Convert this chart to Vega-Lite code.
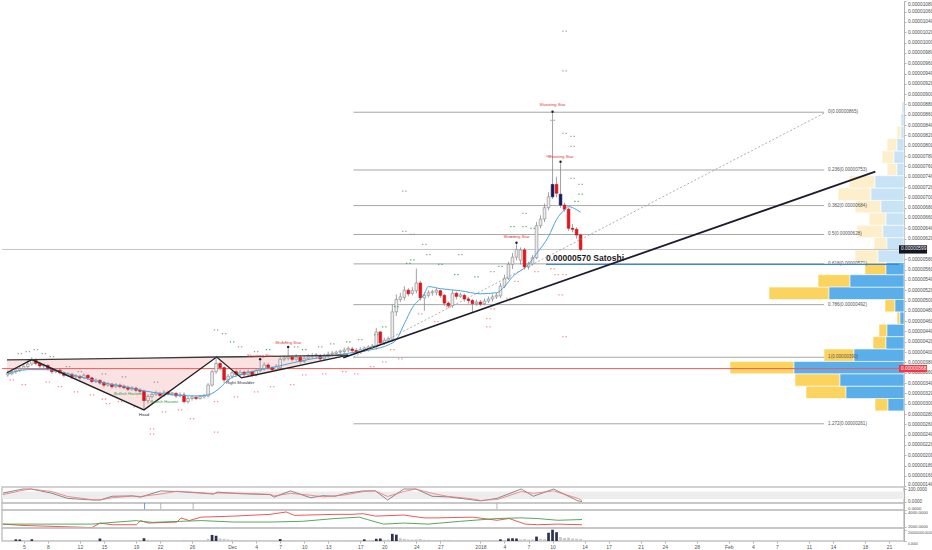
{
"$schema":"https://vega.github.io/schema/vega-lite/v6.json",
"padding":0,
"background":"#ffffff",
"bounds":"flush",
"spacing":0,
"config":{"view":{"stroke":null},"font":"Liberation Sans","axis":{"labelFontSize":5,"labelColor":"#4d4d4d","tickSize":2,"tickColor":"#b0b0b0","domainColor":"#b0b0b0","grid":false,"labelPadding":1.5,"labelOverlap":false},"text":{"font":"Liberation Sans"}},
"datasets":{
"candles":[
{"t":"2017-11-03T00:00","o":356,"h":364,"l":352,"c":360,"v":10},
{"t":"2017-11-03T12:00","o":358,"h":367,"l":355,"c":362,"v":12},
{"t":"2017-11-04T00:00","o":362,"h":370,"l":358,"c":365,"v":30,"hl":1},
{"t":"2017-11-04T12:00","o":365,"h":374,"l":361,"c":368,"v":28,"hl":1},
{"t":"2017-11-05T00:00","o":368,"h":378,"l":364,"c":372,"v":12},
{"t":"2017-11-05T12:00","o":372,"h":384,"l":368,"c":377,"v":10},
{"t":"2017-11-06T00:00","o":377,"h":390,"l":373,"c":384,"v":32,"hl":1},
{"t":"2017-11-06T12:00","o":384,"h":388,"l":374,"c":378,"v":15},
{"t":"2017-11-07T00:00","o":378,"h":382,"l":369,"c":373,"v":10},
{"t":"2017-11-07T12:00","o":373,"h":378,"l":368,"c":375,"v":8},
{"t":"2017-11-08T00:00","o":374,"h":377,"l":364,"c":368,"v":10},
{"t":"2017-11-08T12:00","o":368,"h":371,"l":358,"c":362,"v":12},
{"t":"2017-11-09T00:00","o":362,"h":369,"l":359,"c":365,"v":9},
{"t":"2017-11-09T12:00","o":365,"h":368,"l":356,"c":360,"v":10},
{"t":"2017-11-10T00:00","o":360,"h":363,"l":351,"c":355,"v":11},
{"t":"2017-11-10T12:00","o":355,"h":361,"l":352,"c":358,"v":8},
{"t":"2017-11-11T00:00","o":357,"h":360,"l":348,"c":352,"v":9},
{"t":"2017-11-11T12:00","o":352,"h":357,"l":349,"c":354,"v":8},
{"t":"2017-11-12T00:00","o":353,"h":356,"l":347,"c":350,"v":10},
{"t":"2017-11-12T12:00","o":351,"h":359,"l":348,"c":355,"v":9},
{"t":"2017-11-13T00:00","o":355,"h":357,"l":346,"c":350,"v":11},
{"t":"2017-11-13T12:00","o":350,"h":352,"l":340,"c":343,"v":14},
{"t":"2017-11-14T00:00","o":343,"h":349,"l":340,"c":346,"v":12},
{"t":"2017-11-14T12:00","o":345,"h":348,"l":337,"c":340,"v":45,"hl":1},
{"t":"2017-11-15T00:00","o":341,"h":344,"l":332,"c":336,"v":18},
{"t":"2017-11-15T12:00","o":336,"h":342,"l":333,"c":339,"v":12},
{"t":"2017-11-16T00:00","o":338,"h":340,"l":329,"c":333,"v":10},
{"t":"2017-11-16T12:00","o":333,"h":340,"l":330,"c":337,"v":9},
{"t":"2017-11-17T00:00","o":336,"h":339,"l":330,"c":333,"v":10},
{"t":"2017-11-17T12:00","o":334,"h":337,"l":328,"c":331,"v":11},
{"t":"2017-11-18T00:00","o":332,"h":335,"l":324,"c":328,"v":12},
{"t":"2017-11-18T12:00","o":328,"h":334,"l":325,"c":331,"v":10},
{"t":"2017-11-19T00:00","o":330,"h":333,"l":322,"c":326,"v":14},
{"t":"2017-11-19T12:00","o":326,"h":330,"l":320,"c":324,"v":18},
{"t":"2017-11-20T00:00","o":324,"h":327,"l":288,"c":306,"v":50,"hl":1},
{"t":"2017-11-20T12:00","o":306,"h":318,"l":300,"c":314,"v":22},
{"t":"2017-11-21T00:00","o":314,"h":322,"l":310,"c":318,"v":15},
{"t":"2017-11-21T12:00","o":318,"h":325,"l":315,"c":321,"v":12},
{"t":"2017-11-22T00:00","o":320,"h":323,"l":312,"c":316,"v":10},
{"t":"2017-11-22T12:00","o":316,"h":326,"l":313,"c":322,"v":9},
{"t":"2017-11-23T00:00","o":322,"h":325,"l":316,"c":319,"v":10},
{"t":"2017-11-23T12:00","o":319,"h":323,"l":315,"c":321,"v":11},
{"t":"2017-11-24T00:00","o":320,"h":322,"l":311,"c":315,"v":12},
{"t":"2017-11-24T12:00","o":315,"h":322,"l":312,"c":318,"v":10},
{"t":"2017-11-25T00:00","o":317,"h":322,"l":300,"c":304,"v":20},
{"t":"2017-11-25T12:00","o":304,"h":314,"l":300,"c":310,"v":15},
{"t":"2017-11-26T00:00","o":310,"h":316,"l":306,"c":313,"v":12},
{"t":"2017-11-26T12:00","o":312,"h":316,"l":307,"c":310,"v":10},
{"t":"2017-11-27T00:00","o":310,"h":317,"l":308,"c":314,"v":11},
{"t":"2017-11-27T12:00","o":313,"h":319,"l":310,"c":316,"v":14},
{"t":"2017-11-28T00:00","o":315,"h":340,"l":312,"c":336,"v":40},
{"t":"2017-11-28T12:00","o":336,"h":366,"l":333,"c":362,"v":110,"hl":1},
{"t":"2017-11-29T00:00","o":362,"h":391,"l":358,"c":378,"v":95,"hl":1},
{"t":"2017-11-29T12:00","o":378,"h":382,"l":365,"c":370,"v":45},
{"t":"2017-11-30T00:00","o":370,"h":372,"l":340,"c":346,"v":40},
{"t":"2017-11-30T12:00","o":346,"h":358,"l":342,"c":353,"v":30},
{"t":"2017-12-01T00:00","o":353,"h":364,"l":349,"c":360,"v":22},
{"t":"2017-12-01T12:00","o":362,"h":366,"l":352,"c":357,"v":18},
{"t":"2017-12-02T00:00","o":357,"h":366,"l":353,"c":361,"v":15},
{"t":"2017-12-02T12:00","o":361,"h":364,"l":353,"c":357,"v":14},
{"t":"2017-12-03T00:00","o":357,"h":366,"l":353,"c":362,"v":12},
{"t":"2017-12-03T12:00","o":362,"h":364,"l":352,"c":356,"v":13},
{"t":"2017-12-04T00:00","o":356,"h":368,"l":353,"c":364,"v":12},
{"t":"2017-12-04T12:00","o":364,"h":383,"l":361,"c":368,"v":14},
{"t":"2017-12-05T00:00","o":368,"h":380,"l":364,"c":375,"v":12},
{"t":"2017-12-05T12:00","o":375,"h":378,"l":366,"c":370,"v":11},
{"t":"2017-12-06T00:00","o":370,"h":373,"l":362,"c":366,"v":12},
{"t":"2017-12-06T12:00","o":366,"h":377,"l":363,"c":372,"v":15},
{"t":"2017-12-07T00:00","o":370,"h":392,"l":366,"c":386,"v":35,"hl":1},
{"t":"2017-12-07T12:00","o":386,"h":393,"l":382,"c":389,"v":18},
{"t":"2017-12-08T00:00","o":388,"h":407,"l":384,"c":391,"v":15},
{"t":"2017-12-08T12:00","o":390,"h":393,"l":382,"c":386,"v":14},
{"t":"2017-12-09T00:00","o":386,"h":396,"l":383,"c":390,"v":12},
{"t":"2017-12-09T12:00","o":390,"h":393,"l":378,"c":382,"v":13},
{"t":"2017-12-10T00:00","o":382,"h":392,"l":379,"c":388,"v":11},
{"t":"2017-12-10T12:00","o":388,"h":396,"l":385,"c":391,"v":12},
{"t":"2017-12-11T00:00","o":391,"h":398,"l":387,"c":393,"v":10},
{"t":"2017-12-11T12:00","o":392,"h":398,"l":388,"c":395,"v":11},
{"t":"2017-12-12T00:00","o":393,"h":396,"l":383,"c":387,"v":12},
{"t":"2017-12-12T12:00","o":387,"h":397,"l":384,"c":392,"v":10},
{"t":"2017-12-13T00:00","o":392,"h":401,"l":389,"c":396,"v":11},
{"t":"2017-12-13T12:00","o":396,"h":402,"l":392,"c":398,"v":10},
{"t":"2017-12-14T00:00","o":397,"h":403,"l":392,"c":400,"v":12},
{"t":"2017-12-14T12:00","o":400,"h":405,"l":394,"c":402,"v":11},
{"t":"2017-12-15T00:00","o":401,"h":409,"l":397,"c":404,"v":12},
{"t":"2017-12-15T12:00","o":404,"h":411,"l":400,"c":407,"v":14},
{"t":"2017-12-16T00:00","o":406,"h":410,"l":398,"c":403,"v":13},
{"t":"2017-12-16T12:00","o":403,"h":408,"l":396,"c":400,"v":15},
{"t":"2017-12-17T00:00","o":401,"h":410,"l":398,"c":405,"v":18},
{"t":"2017-12-17T12:00","o":405,"h":411,"l":400,"c":408,"v":30,"hl":1},
{"t":"2017-12-18T00:00","o":407,"h":413,"l":401,"c":410,"v":14},
{"t":"2017-12-18T12:00","o":409,"h":416,"l":404,"c":412,"v":20},
{"t":"2017-12-19T00:00","o":411,"h":447,"l":405,"c":439,"v":40,"hl":1},
{"t":"2017-12-19T12:00","o":439,"h":441,"l":414,"c":418,"v":45,"hl":1},
{"t":"2017-12-20T00:00","o":418,"h":428,"l":414,"c":423,"v":22},
{"t":"2017-12-20T12:00","o":423,"h":430,"l":419,"c":426,"v":25},
{"t":"2017-12-21T00:00","o":425,"h":492,"l":420,"c":478,"v":130,"hl":1},
{"t":"2017-12-21T12:00","o":478,"h":512,"l":470,"c":502,"v":115,"hl":1},
{"t":"2017-12-22T00:00","o":502,"h":515,"l":497,"c":507,"v":50},
{"t":"2017-12-22T12:00","o":506,"h":528,"l":500,"c":520,"v":38},
{"t":"2017-12-23T00:00","o":520,"h":524,"l":508,"c":513,"v":28},
{"t":"2017-12-23T12:00","o":514,"h":526,"l":510,"c":519,"v":25},
{"t":"2017-12-24T00:00","o":519,"h":562,"l":514,"c":534,"v":30},
{"t":"2017-12-24T12:00","o":534,"h":538,"l":500,"c":505,"v":35},
{"t":"2017-12-25T00:00","o":505,"h":516,"l":480,"c":510,"v":22},
{"t":"2017-12-25T12:00","o":510,"h":520,"l":506,"c":515,"v":20},
{"t":"2017-12-26T00:00","o":515,"h":521,"l":509,"c":517,"v":18},
{"t":"2017-12-26T12:00","o":516,"h":524,"l":510,"c":520,"v":16},
{"t":"2017-12-27T00:00","o":519,"h":521,"l":505,"c":510,"v":18},
{"t":"2017-12-27T12:00","o":510,"h":513,"l":490,"c":495,"v":22},
{"t":"2017-12-28T00:00","o":495,"h":498,"l":485,"c":490,"v":20},
{"t":"2017-12-28T12:00","o":490,"h":520,"l":486,"c":514,"v":18},
{"t":"2017-12-29T00:00","o":514,"h":517,"l":502,"c":508,"v":16},
{"t":"2017-12-29T12:00","o":508,"h":515,"l":505,"c":511,"v":14},
{"t":"2017-12-30T00:00","o":510,"h":513,"l":498,"c":503,"v":15},
{"t":"2017-12-30T12:00","o":503,"h":506,"l":494,"c":500,"v":14},
{"t":"2017-12-31T00:00","o":500,"h":503,"l":478,"c":494,"v":18},
{"t":"2017-12-31T12:00","o":494,"h":502,"l":490,"c":497,"v":14},
{"t":"2018-01-01T00:00","o":497,"h":501,"l":489,"c":493,"v":12},
{"t":"2018-01-01T12:00","o":494,"h":504,"l":491,"c":499,"v":13},
{"t":"2018-01-02T00:00","o":499,"h":508,"l":495,"c":503,"v":14},
{"t":"2018-01-02T12:00","o":503,"h":512,"l":498,"c":507,"v":16},
{"t":"2018-01-03T00:00","o":507,"h":515,"l":503,"c":510,"v":18},
{"t":"2018-01-03T12:00","o":509,"h":534,"l":505,"c":528,"v":30,"hl":1},
{"t":"2018-01-04T00:00","o":528,"h":550,"l":524,"c":543,"v":20},
{"t":"2018-01-04T12:00","o":543,"h":575,"l":540,"c":570,"v":45,"hl":1},
{"t":"2018-01-05T00:00","o":570,"h":592,"l":561,"c":584,"v":50,"hl":1},
{"t":"2018-01-05T12:00","o":584,"h":609,"l":578,"c":599,"v":45,"hl":1},
{"t":"2018-01-06T00:00","o":578,"h":603,"l":570,"c":598,"v":28},
{"t":"2018-01-06T12:00","o":598,"h":602,"l":560,"c":565,"v":35},
{"t":"2018-01-07T00:00","o":565,"h":575,"l":560,"c":571,"v":25},
{"t":"2018-01-07T12:00","o":571,"h":588,"l":568,"c":583,"v":28},
{"t":"2018-01-08T00:00","o":583,"h":652,"l":580,"c":645,"v":80,"hl":1},
{"t":"2018-01-08T12:00","o":645,"h":665,"l":640,"c":658,"v":40},
{"t":"2018-01-09T00:00","o":658,"h":688,"l":652,"c":680,"v":35},
{"t":"2018-01-09T12:00","o":680,"h":710,"l":675,"c":701,"v":150,"hl":1},
{"t":"2018-01-10T00:00","o":701,"h":863,"l":697,"c":725,"v":205,"hl":1,"p":1},
{"t":"2018-01-10T12:00","o":725,"h":740,"l":700,"c":708,"v":160,"hl":1},
{"t":"2018-01-11T00:00","o":706,"h":766,"l":680,"c":685,"v":70,"p":1},
{"t":"2018-01-11T12:00","o":685,"h":690,"l":672,"c":677,"v":55},
{"t":"2018-01-12T00:00","o":677,"h":680,"l":635,"c":640,"v":60},
{"t":"2018-01-12T12:00","o":640,"h":648,"l":632,"c":638,"v":45},
{"t":"2018-01-13T00:00","o":638,"h":642,"l":620,"c":627,"v":40},
{"t":"2018-01-13T12:00","o":627,"h":630,"l":596,"c":599,"v":35}
],
"ma":[
{"t":"2017-11-03T00:00","m":358},{"t":"2017-11-05T12:00","m":366},{"t":"2017-11-08T00:00","m":366},{"t":"2017-11-10T12:00","m":358},
{"t":"2017-11-13T00:00","m":348},{"t":"2017-11-15T00:00","m":340},{"t":"2017-11-17T12:00","m":333},{"t":"2017-11-20T00:00","m":325},
{"t":"2017-11-22T12:00","m":319},{"t":"2017-11-26T12:00","m":315},{"t":"2017-11-28T00:00","m":317},{"t":"2017-11-29T12:00","m":331},
{"t":"2017-11-30T12:00","m":346},{"t":"2017-12-02T12:00","m":358},{"t":"2017-12-04T12:00","m":366},{"t":"2017-12-06T00:00","m":370},
{"t":"2017-12-08T12:00","m":379},{"t":"2017-12-11T00:00","m":387},{"t":"2017-12-13T12:00","m":393},{"t":"2017-12-16T00:00","m":399},
{"t":"2017-12-18T12:00","m":405},{"t":"2017-12-20T12:00","m":414},{"t":"2017-12-21T12:00","m":424},{"t":"2017-12-22T12:00","m":455},
{"t":"2017-12-23T12:00","m":486},{"t":"2017-12-25T00:00","m":513},{"t":"2017-12-25T12:00","m":527},{"t":"2017-12-27T00:00","m":523},
{"t":"2017-12-29T12:00","m":519},{"t":"2018-01-01T00:00","m":513},{"t":"2018-01-03T00:00","m":515},{"t":"2018-01-04T00:00","m":527},
{"t":"2018-01-05T00:00","m":546},{"t":"2018-01-07T00:00","m":570},{"t":"2018-01-08T00:00","m":591},{"t":"2018-01-09T12:00","m":624},
{"t":"2018-01-10T12:00","m":657},{"t":"2018-01-11T12:00","m":676},{"t":"2018-01-12T00:00","m":682},{"t":"2018-01-13T00:00","m":676},
{"t":"2018-01-13T12:00","m":671}
],
"profile":[
{"lo":286,"hi":310,"up":16,"tot":29,"z":"lo"},{"lo":310,"hi":334,"up":58,"tot":98,"z":"lo"},{"lo":334,"hi":358,"up":64,"tot":109,"z":"lo"},
{"lo":358,"hi":382,"up":110,"tot":174,"z":"lo"},{"lo":382,"hi":406,"up":50,"tot":80,"z":"lo"},{"lo":406,"hi":430,"up":18,"tot":31,"z":"lo"},
{"lo":430,"hi":454,"up":17,"tot":25,"z":"lo"},{"lo":454,"hi":478,"up":4,"tot":7,"z":"lo"},{"lo":478,"hi":502,"up":9,"tot":19,"z":"lo"},
{"lo":502,"hi":526,"up":75,"tot":135,"z":"lo"},{"lo":526,"hi":550,"up":54,"tot":86,"z":"lo"},{"lo":550,"hi":574,"up":18,"tot":39,"z":"lo"},
{"lo":574,"hi":598,"up":26,"tot":49,"z":"hi"},{"lo":598,"hi":622,"up":17,"tot":30,"z":"hi"},{"lo":622,"hi":646,"up":21,"tot":47,"z":"hi"},
{"lo":646,"hi":670,"up":18,"tot":35,"z":"hi"},{"lo":670,"hi":694,"up":23,"tot":49,"z":"hi"},{"lo":694,"hi":718,"up":33,"tot":66,"z":"hi"},
{"lo":718,"hi":742,"up":29,"tot":55,"z":"hi"},{"lo":742,"hi":766,"up":7,"tot":17,"z":"hi"},{"lo":766,"hi":790,"up":10,"tot":22,"z":"hi"},
{"lo":790,"hi":814,"up":7,"tot":17,"z":"hi"},{"lo":814,"hi":838,"up":3,"tot":7,"z":"hi"},{"lo":838,"hi":862,"up":3,"tot":3,"z":"hi"},
{"lo":862,"hi":886,"up":2,"tot":2,"z":"hi"}
],
"fib":[
{"p":865,"s":"0(0.00000865)"},{"p":753,"s":"0.236(0.00000753)"},{"p":684,"s":"0.382(0.00000684)"},{"p":628,"s":"0.5(0.00000628)"},
{"p":571,"s":"0.618(0.00000571)"},{"p":492,"s":"0.786(0.00000492)"},{"p":390,"s":"1(0.00000390)"},{"p":261,"s":"1.272(0.00000261)"}
],
"hs":[
{"t":"2017-11-02T21:36","p":360,"n":385},
{"t":"2017-11-06T00:00","p":385.5,"n":385.5},
{"t":"2017-11-20T00:00","p":288,"n":388.5},
{"t":"2017-11-29T01:40","p":390.5,"n":390.5},
{"t":"2017-12-02T03:50","p":350,"n":391},
{"t":"2017-12-15T11:45","p":394,"n":394}
],
"lines":[
{"id":"trend","t":"2017-12-14T21:00","p":389},{"id":"trend","t":"2018-02-19T07:00","p":750},
{"id":"fibline","t":"2017-12-16T03:36","p":390},{"id":"fibline","t":"2018-02-13T03:00","p":865}
],
"dots":[
{"t":"2017-11-04T12:00","p":397,"k":"n"},{"t":"2017-11-05T12:00","p":401,"k":"n"},{"t":"2017-11-06T12:00","p":405,"k":"n"},
{"t":"2017-11-07T12:00","p":397,"k":"n"},{"t":"2017-11-08T12:00","p":391,"k":"n"},{"t":"2017-11-10T12:00","p":372,"k":"n"},
{"t":"2017-11-12T00:00","p":362,"k":"n"},{"t":"2017-11-15T00:00","p":358,"k":"n"},{"t":"2017-11-17T12:00","p":352,"k":"n"},
{"t":"2017-11-21T12:00","p":342,"k":"n"},{"t":"2017-11-29T00:00","p":443,"k":"n"},{"t":"2017-11-30T00:00","p":436,"k":"n"},
{"t":"2017-12-02T00:00","p":410,"k":"n"},{"t":"2017-12-04T00:00","p":401,"k":"n"},{"t":"2017-12-07T12:00","p":420,"k":"n"},
{"t":"2017-12-09T00:00","p":410,"k":"n"},{"t":"2017-12-12T00:00","p":410,"k":"n"},{"t":"2017-12-13T12:00","p":416,"k":"n"},
{"t":"2017-12-17T00:00","p":424,"k":"n"},{"t":"2017-12-22T12:00","p":712,"k":"n"},{"t":"2017-12-22T12:00","p":634,"k":"n"},
{"t":"2017-12-23T12:00","p":628,"k":"n"},{"t":"2017-12-25T00:00","p":609,"k":"n"},{"t":"2017-12-25T12:00","p":589,"k":"n"},
{"t":"2017-12-29T12:00","p":589,"k":"n"},{"t":"2018-01-02T12:00","p":556,"k":"n"},{"t":"2018-01-05T00:00","p":624,"k":"n"},
{"t":"2018-01-06T12:00","p":669,"k":"n"},{"t":"2018-01-09T12:00","p":780,"k":"n"},{"t":"2018-01-10T00:00","p":849,"k":"n"},
{"t":"2018-01-11T12:00","p":1022,"k":"n"},{"t":"2018-01-11T12:00","p":945,"k":"n"},{"t":"2018-01-11T12:00","p":824,"k":"n"},
{"t":"2018-01-12T12:00","p":818,"k":"n"},{"t":"2018-01-12T12:00","p":799,"k":"n"},{"t":"2018-01-12T12:00","p":737,"k":"n"},
{"t":"2018-01-13T12:00","p":725,"k":"n"},
{"t":"2017-12-01T00:00","p":420,"k":"g"},{"t":"2017-12-05T12:00","p":405,"k":"g"},{"t":"2017-12-10T00:00","p":405,"k":"g"},
{"t":"2017-12-15T12:00","p":420,"k":"g"},{"t":"2017-12-19T00:00","p":434,"k":"g"},{"t":"2017-12-20T00:00","p":449,"k":"g"},
{"t":"2017-12-21T12:00","p":488,"k":"g"},{"t":"2017-12-23T12:00","p":579,"k":"g"},{"t":"2017-12-23T00:00","p":572,"k":"g"},
{"t":"2017-12-27T00:00","p":570,"k":"g"},{"t":"2017-12-29T00:00","p":550,"k":"g"},{"t":"2017-12-31T12:00","p":546,"k":"g"},
{"t":"2018-01-03T12:00","p":566,"k":"g"},{"t":"2018-01-05T00:00","p":643,"k":"g"},{"t":"2018-01-06T12:00","p":643,"k":"g"},
{"t":"2018-01-07T12:00","p":640,"k":"g"},{"t":"2018-01-13T12:00","p":706,"k":"g"},{"t":"2018-01-13T00:00","p":692,"k":"g"},
{"t":"2017-11-03T12:00","p":346,"k":"r"},{"t":"2017-11-05T00:00","p":337,"k":"r"},{"t":"2017-11-08T00:00","p":342,"k":"r"},
{"t":"2017-11-09T12:00","p":333,"k":"r"},{"t":"2017-11-11T12:00","p":323,"k":"r"},{"t":"2017-11-13T12:00","p":317,"k":"r"},
{"t":"2017-11-15T00:00","p":309,"k":"r"},{"t":"2017-11-15T12:00","p":300,"k":"r"},{"t":"2017-11-17T00:00","p":304,"k":"r"},
{"t":"2017-11-19T00:00","p":294,"k":"r"},{"t":"2017-11-21T00:00","p":251,"k":"r"},{"t":"2017-11-21T00:00","p":241,"k":"r"},
{"t":"2017-11-22T12:00","p":284,"k":"r"},{"t":"2017-11-24T12:00","p":288,"k":"r"},{"t":"2017-11-26T00:00","p":271,"k":"r"},
{"t":"2017-11-29T00:00","p":304,"k":"r"},{"t":"2017-11-29T00:00","p":245,"k":"r"},{"t":"2017-12-01T12:00","p":313,"k":"r"},
{"t":"2017-12-04T00:00","p":323,"k":"r"},{"t":"2017-12-06T00:00","p":333,"k":"r"},{"t":"2017-12-08T12:00","p":337,"k":"r"},
{"t":"2017-12-10T00:00","p":356,"k":"r"},{"t":"2017-12-12T12:00","p":358,"k":"r"},{"t":"2017-12-15T00:00","p":362,"k":"r"},
{"t":"2017-12-16T12:00","p":358,"k":"r"},{"t":"2017-12-18T12:00","p":372,"k":"r"},{"t":"2017-12-20T00:00","p":381,"k":"r"},
{"t":"2017-12-21T00:00","p":405,"k":"r"},{"t":"2017-12-22T00:00","p":387,"k":"r"},{"t":"2017-12-24T12:00","p":474,"k":"r"},
{"t":"2017-12-26T12:00","p":459,"k":"r"},{"t":"2017-12-28T00:00","p":488,"k":"r"},{"t":"2018-01-02T00:00","p":465,"k":"r"},
{"t":"2018-01-02T00:00","p":449,"k":"r"},{"t":"2018-01-02T12:00","p":484,"k":"r"},{"t":"2018-01-04T12:00","p":504,"k":"r"},
{"t":"2018-01-05T12:00","p":537,"k":"r"},{"t":"2018-01-08T00:00","p":556,"k":"r"},{"t":"2018-01-10T00:00","p":562,"k":"r"},
{"t":"2018-01-10T12:00","p":550,"k":"r"},{"t":"2018-01-11T12:00","p":550,"k":"r"},{"t":"2018-01-11T00:00","p":511,"k":"r"},
{"t":"2018-01-11T12:00","p":430,"k":"r"}
],
"markers":[
{"t":"2018-01-10T00:00","p":866},{"t":"2018-01-11T00:00","p":769},{"t":"2018-01-05T12:00","p":612},
{"t":"2017-12-08T00:00","p":410},{"t":"2017-12-04T12:00","p":386}
],
"labels":[
{"t":"2018-01-10T00:00","p":879,"s":"Shooting Star","k":"r"},
{"t":"2018-01-11T00:00","p":779,"s":"Shooting Star","k":"r"},
{"t":"2018-01-05T12:00","p":624,"s":"Shooting Star","k":"r"},
{"t":"2017-12-08T00:00","p":418,"s":"Shooting Star","k":"r"},
{"t":"2017-12-04T12:00","p":393,"s":"Shooting Star","k":"r"},
{"t":"2017-11-18T00:00","p":319,"s":"Bullish Harami","k":"g"},
{"t":"2017-11-22T12:00","p":304,"s":"Bullish Harami","k":"g"},
{"t":"2017-11-20T00:00","p":278,"s":"Head","k":"b"},
{"t":"2017-12-02T00:00","p":340,"s":"Right Shoulder","k":"b"}
],
"pricebox":[
{"lo":591,"hi":607,"p":599,"s":"0.00000599","k":"d"},
{"lo":361,"hi":375,"p":368,"s":"0.00000368","k":"r"}
],
"stoch":[
{"t":"2017-11-03T00:00","s":"k","v":67},{"t":"2017-11-05T12:00","s":"k","v":100},{"t":"2017-11-06T12:00","s":"k","v":100},
{"t":"2017-11-09T00:00","s":"k","v":67},{"t":"2017-11-11T00:00","s":"k","v":25},{"t":"2017-11-14T00:00","s":"k","v":12},
{"t":"2017-11-15T00:00","s":"k","v":12},{"t":"2017-11-16T12:00","s":"k","v":42},{"t":"2017-11-19T00:00","s":"k","v":45},
{"t":"2017-11-20T00:00","s":"k","v":35},{"t":"2017-11-22T12:00","s":"k","v":85},{"t":"2017-11-24T12:00","s":"k","v":80},
{"t":"2017-11-27T12:00","s":"k","v":67},{"t":"2017-11-29T00:00","s":"k","v":60},{"t":"2017-11-29T12:00","s":"k","v":75},
{"t":"2017-12-02T12:00","s":"k","v":62},{"t":"2017-12-06T00:00","s":"k","v":55},{"t":"2017-12-06T12:00","s":"k","v":35},
{"t":"2017-12-08T12:00","s":"k","v":85},{"t":"2017-12-11T00:00","s":"k","v":30},{"t":"2017-12-12T12:00","s":"k","v":47},
{"t":"2017-12-14T00:00","s":"k","v":42},{"t":"2017-12-15T12:00","s":"k","v":67},{"t":"2017-12-17T12:00","s":"k","v":85},
{"t":"2017-12-19T00:00","s":"k","v":85},{"t":"2017-12-20T12:00","s":"k","v":12},{"t":"2017-12-22T12:00","s":"k","v":100},
{"t":"2017-12-24T00:00","s":"k","v":100},{"t":"2017-12-26T00:00","s":"k","v":42},{"t":"2017-12-28T00:00","s":"k","v":37},
{"t":"2017-12-30T12:00","s":"k","v":17},{"t":"2018-01-01T00:00","s":"k","v":5},{"t":"2018-01-03T00:00","s":"k","v":25},
{"t":"2018-01-06T00:00","s":"k","v":100},{"t":"2018-01-07T12:00","s":"k","v":42},{"t":"2018-01-10T00:00","s":"k","v":100},
{"t":"2018-01-13T00:00","s":"k","v":5},{"t":"2018-01-13T12:00","s":"k","v":0},
{"t":"2017-11-03T00:00","s":"d","v":55},{"t":"2017-11-05T12:00","s":"d","v":90},{"t":"2017-11-06T12:00","s":"d","v":100},
{"t":"2017-11-09T00:00","s":"d","v":80},{"t":"2017-11-11T00:00","s":"d","v":40},{"t":"2017-11-14T00:00","s":"d","v":15},
{"t":"2017-11-15T00:00","s":"d","v":12},{"t":"2017-11-16T12:00","s":"d","v":30},{"t":"2017-11-19T00:00","s":"d","v":44},
{"t":"2017-11-20T00:00","s":"d","v":40},{"t":"2017-11-22T12:00","s":"d","v":60},{"t":"2017-11-24T12:00","s":"d","v":82},
{"t":"2017-11-27T12:00","s":"d","v":70},{"t":"2017-11-29T00:00","s":"d","v":62},{"t":"2017-11-29T12:00","s":"d","v":68},
{"t":"2017-12-02T12:00","s":"d","v":66},{"t":"2017-12-06T00:00","s":"d","v":57},{"t":"2017-12-06T12:00","s":"d","v":45},
{"t":"2017-12-08T12:00","s":"d","v":65},{"t":"2017-12-11T00:00","s":"d","v":50},{"t":"2017-12-12T12:00","s":"d","v":38},
{"t":"2017-12-14T00:00","s":"d","v":45},{"t":"2017-12-15T12:00","s":"d","v":55},{"t":"2017-12-17T12:00","s":"d","v":80},
{"t":"2017-12-19T00:00","s":"d","v":85},{"t":"2017-12-20T12:00","s":"d","v":40},{"t":"2017-12-22T12:00","s":"d","v":80},
{"t":"2017-12-24T00:00","s":"d","v":100},{"t":"2017-12-26T00:00","s":"d","v":65},{"t":"2017-12-28T00:00","s":"d","v":40},
{"t":"2017-12-30T12:00","s":"d","v":25},{"t":"2018-01-01T00:00","s":"d","v":10},{"t":"2018-01-03T00:00","s":"d","v":15},
{"t":"2018-01-06T00:00","s":"d","v":80},{"t":"2018-01-07T12:00","s":"d","v":65},{"t":"2018-01-10T00:00","s":"d","v":85},
{"t":"2018-01-13T00:00","s":"d","v":25},{"t":"2018-01-13T12:00","s":"d","v":8}
],
"osc":[
{"t":"2017-11-03T00:00","s":"r","v":2354},{"t":"2017-11-05T12:00","s":"r","v":2154},{"t":"2017-11-14T00:00","s":"r","v":1846},
{"t":"2017-11-15T00:00","s":"r","v":2508},{"t":"2017-11-16T12:00","s":"r","v":2262},{"t":"2017-11-19T12:00","s":"r","v":2262},
{"t":"2017-11-20T00:00","s":"r","v":2877},{"t":"2017-11-21T00:00","s":"r","v":2508},{"t":"2017-11-24T12:00","s":"r","v":2662},
{"t":"2017-11-25T00:00","s":"r","v":3277},{"t":"2017-11-26T00:00","s":"r","v":2877},{"t":"2017-11-27T12:00","s":"r","v":3385},
{"t":"2017-12-01T12:00","s":"r","v":3538},{"t":"2017-12-06T00:00","s":"r","v":3800},{"t":"2017-12-08T00:00","s":"r","v":4154},
{"t":"2017-12-09T00:00","s":"r","v":3646},{"t":"2017-12-14T00:00","s":"r","v":3800},{"t":"2017-12-16T00:00","s":"r","v":3800},
{"t":"2017-12-17T12:00","s":"r","v":3892},{"t":"2017-12-19T00:00","s":"r","v":3538},{"t":"2017-12-22T12:00","s":"r","v":3692},
{"t":"2017-12-25T00:00","s":"r","v":3277},{"t":"2017-12-26T12:00","s":"r","v":3277},{"t":"2017-12-31T00:00","s":"r","v":3385},
{"t":"2018-01-01T00:00","s":"r","v":3231},{"t":"2018-01-03T00:00","s":"r","v":2923},{"t":"2018-01-04T12:00","s":"r","v":3185},
{"t":"2018-01-06T12:00","s":"r","v":2354},{"t":"2018-01-08T00:00","s":"r","v":2262},{"t":"2018-01-10T12:00","s":"r","v":2354},
{"t":"2018-01-13T12:00","s":"r","v":2262},
{"t":"2017-11-03T00:00","s":"g","v":2354},{"t":"2017-11-07T00:00","s":"g","v":2354},{"t":"2017-11-14T00:00","s":"g","v":2354},
{"t":"2017-11-15T12:00","s":"g","v":2508},{"t":"2017-11-19T12:00","s":"g","v":2877},{"t":"2017-11-20T00:00","s":"g","v":2769},
{"t":"2017-11-21T12:00","s":"g","v":2615},{"t":"2017-11-27T12:00","s":"g","v":2877},{"t":"2017-12-01T12:00","s":"g","v":2662},
{"t":"2017-12-06T00:00","s":"g","v":2662},{"t":"2017-12-10T00:00","s":"g","v":2769},{"t":"2017-12-14T00:00","s":"g","v":3185},
{"t":"2017-12-17T00:00","s":"g","v":3385},{"t":"2017-12-18T00:00","s":"g","v":3031},{"t":"2017-12-20T00:00","s":"g","v":2354},
{"t":"2017-12-22T12:00","s":"g","v":2508},{"t":"2017-12-25T12:00","s":"g","v":2354},{"t":"2017-12-29T12:00","s":"g","v":2769},
{"t":"2018-01-03T00:00","s":"g","v":3185},{"t":"2018-01-06T00:00","s":"g","v":3277},{"t":"2018-01-08T00:00","s":"g","v":3185},
{"t":"2018-01-10T12:00","s":"g","v":2923},{"t":"2018-01-13T12:00","s":"g","v":3031}
],
"spikes":[
{"t":"2017-11-20T12:00","k":"b"},{"t":"2017-11-22T12:00","k":"n"},{"t":"2017-11-26T12:00","k":"n"},{"t":"2018-01-03T00:00","k":"n"}
]
},
"vconcat":[
{
"width":902,"height":486,
"resolve":{"scale":{"x":"independent"},"axis":{"y":"independent"}},
"layer":[
{"data":{"name":"profile"},
 "layer":[
  {"mark":{"type":"rect","stroke":"#ffffff","strokeWidth":0.6},
   "encoding":{
    "x":{"field":"tot","type":"quantitative","scale":{"domain":[0,902],"reverse":true,"nice":false,"zero":false},"axis":null},
    "x2":{"field":"up"},
    "y":{"field":"lo","type":"quantitative","title":null,"scale":{"domain":[138.5,1080.6],"nice":false,"zero":false},"axis":null},
    "y2":{"field":"hi"},
    "color":{"condition":{"test":"datum.z=='hi'","value":"#fdefcb"},"value":"#fbd35f"}}},
  {"mark":{"type":"rect","stroke":"#ffffff","strokeWidth":0.6},
   "encoding":{
    "x":{"field":"up","type":"quantitative","scale":{"domain":[0,902],"reverse":true,"nice":false,"zero":false},"axis":null},
    "x2":{"datum":0},
    "y":{"field":"lo","type":"quantitative","title":null,"scale":{"domain":[138.5,1080.6],"nice":false,"zero":false},"axis":null},
    "y2":{"field":"hi"},
    "color":{"condition":{"test":"datum.z=='hi'","value":"#c9e3f6"},"value":"#5aaeea"}}}
 ]},
{"resolve":{"axis":{"y":"independent"}},
 "layer":[
  {"data":{"name":"hs"},"mark":{"type":"area","color":"#fbe2e2"},
   "encoding":{
    "x":{"field":"t","type":"temporal","scale":{"domain":[{"year":2017,"month":"nov","date":2,"hours":21,"minutes":36},{"year":2018,"month":"feb","date":22,"hours":6}]},"axis":null},
    "y":{"field":"p","type":"quantitative","title":null,"scale":{"domain":[138.5,1080.6],"nice":false,"zero":false},"axis":null},
    "y2":{"field":"n"}}},
  {"data":{"name":"fib"},"mark":{"type":"rule","color":"#a6a6a6","strokeWidth":1},
   "encoding":{
    "x":{"datum":{"year":2017,"month":"dec","date":16,"hours":3,"minutes":36},"type":"temporal","scale":{"domain":[{"year":2017,"month":"nov","date":2,"hours":21,"minutes":36},{"year":2018,"month":"feb","date":22,"hours":6}]},"axis":null},
    "x2":{"datum":{"year":2018,"month":"feb","date":12,"hours":21,"minutes":36}},
    "y":{"field":"p","type":"quantitative","title":null,"scale":{"domain":[138.5,1080.6],"nice":false,"zero":false},"axis":null}}},
  {"data":{"name":"fib"},"mark":{"type":"text","align":"left","baseline":"middle","dx":4,"fontSize":4.6,"color":"#555555"},
   "encoding":{
    "x":{"datum":{"year":2018,"month":"feb","date":12,"hours":21,"minutes":36},"type":"temporal","scale":{"domain":[{"year":2017,"month":"nov","date":2,"hours":21,"minutes":36},{"year":2018,"month":"feb","date":22,"hours":6}]},"axis":null},
    "y":{"field":"p","type":"quantitative","title":null,"scale":{"domain":[138.5,1080.6],"nice":false,"zero":false},"axis":null},
    "text":{"field":"s"}}},
  {"data":{"values":[{}]},"mark":{"type":"rule","color":"#f05a5a","strokeWidth":1},
   "encoding":{"y":{"datum":368,"type":"quantitative","title":null,"scale":{"domain":[138.5,1080.6],"nice":false,"zero":false},"axis":null}}},
  {"data":{"values":[{}]},"mark":{"type":"rule","color":"#c4c4c4","strokeWidth":1},
   "encoding":{"y":{"datum":599,"type":"quantitative","title":null,"scale":{"domain":[138.5,1080.6],"nice":false,"zero":false},"axis":null}}},
  {"data":{"values":[{}]},"mark":{"type":"rule","color":"#3d87d6","strokeWidth":1.3},
   "encoding":{
    "x":{"datum":{"year":2018,"month":"jan","date":9,"hours":4,"minutes":30},"type":"temporal","scale":{"domain":[{"year":2017,"month":"nov","date":2,"hours":21,"minutes":36},{"year":2018,"month":"feb","date":22,"hours":6}]},"axis":null},
    "x2":{"datum":{"year":2018,"month":"feb","date":22,"hours":6}},
    "y":{"datum":570,"type":"quantitative","title":null,"scale":{"domain":[138.5,1080.6],"nice":false,"zero":false},"axis":null}}},
  {"data":{"values":[{"s":"0.00000570 Satoshi"}]},"mark":{"type":"text","align":"left","baseline":"bottom","dy":-1,"fontSize":8.5,"fontWeight":"bold","color":"#1a1a1a"},
   "encoding":{
    "x":{"datum":{"year":2018,"month":"jan","date":9,"hours":4,"minutes":30},"type":"temporal","scale":{"domain":[{"year":2017,"month":"nov","date":2,"hours":21,"minutes":36},{"year":2018,"month":"feb","date":22,"hours":6}]},"axis":null},
    "y":{"datum":570,"type":"quantitative","title":null,"scale":{"domain":[138.5,1080.6],"nice":false,"zero":false},"axis":null},
    "text":{"field":"s"}}},
  {"data":{"name":"candles"},"mark":{"type":"rule","color":"#8a8a8a","strokeWidth":0.8},
   "encoding":{
    "x":{"field":"t","type":"temporal","scale":{"domain":[{"year":2017,"month":"nov","date":2,"hours":21,"minutes":36},{"year":2018,"month":"feb","date":22,"hours":6}]},"axis":null},
    "y":{"field":"l","type":"quantitative","title":null,"scale":{"domain":[138.5,1080.6],"nice":false,"zero":false},
      "axis":{"orient":"right","title":null,"values":[140,160,180,200,220,240,260,280,300,320,340,360,380,400,420,440,460,480,500,520,540,560,580,620,640,660,680,700,720,740,760,780,800,820,840,860,880,900,920,940,960,980,1000,1020,1040,1060,1080],"labelExpr":"format(datum.value/100000000,'.8f')","labelFlush":true,"labelOverlap":false,"labelFontSize":4.8}},
    "y2":{"field":"h"}}},
  {"data":{"name":"candles"},"mark":{"type":"bar","size":2.7,"strokeWidth":0.6},
   "encoding":{
    "x":{"field":"t","type":"temporal","scale":{"domain":[{"year":2017,"month":"nov","date":2,"hours":21,"minutes":36},{"year":2018,"month":"feb","date":22,"hours":6}]},"axis":null},
    "y":{"field":"o","type":"quantitative","title":null,"scale":{"domain":[138.5,1080.6],"nice":false,"zero":false},"axis":null},
    "y2":{"field":"c"},
    "fill":{"condition":[{"test":"datum.p==1","value":"#161a55"},{"test":"datum.c<datum.o","value":"#e3161c"}],"value":"#ececec"},
    "stroke":{"condition":[{"test":"datum.p==1","value":"#161a55"},{"test":"datum.c<datum.o","value":"#c81015"}],"value":"#858585"}}},
  {"data":{"name":"ma"},"mark":{"type":"line","color":"#4aa3df","strokeWidth":1,"interpolate":"monotone"},
   "encoding":{
    "x":{"field":"t","type":"temporal","scale":{"domain":[{"year":2017,"month":"nov","date":2,"hours":21,"minutes":36},{"year":2018,"month":"feb","date":22,"hours":6}]},"axis":null},
    "y":{"field":"m","type":"quantitative","title":null,"scale":{"domain":[138.5,1080.6],"nice":false,"zero":false},"axis":null}}},
  {"data":{"name":"dots"},"mark":{"type":"point","filled":true,"size":25,"opacity":0.9,"shape":"M-0.9,-0.25h0.5v0.5h-0.5zM0.4,-0.25h0.5v0.5h-0.5z"},
   "encoding":{
    "x":{"field":"t","type":"temporal","scale":{"domain":[{"year":2017,"month":"nov","date":2,"hours":21,"minutes":36},{"year":2018,"month":"feb","date":22,"hours":6}]},"axis":null},
    "y":{"field":"p","type":"quantitative","title":null,"scale":{"domain":[138.5,1080.6],"nice":false,"zero":false},"axis":null},
    "color":{"condition":[{"test":"datum.k=='g'","value":"#3fa34d"},{"test":"datum.k=='r'","value":"#f07f7f"}],"value":"#8f8f8f"}}},
  {"data":{"name":"hs"},"mark":{"type":"line","color":"#222222","strokeWidth":1.3},
   "encoding":{
    "x":{"field":"t","type":"temporal","scale":{"domain":[{"year":2017,"month":"nov","date":2,"hours":21,"minutes":36},{"year":2018,"month":"feb","date":22,"hours":6}]},"axis":null},
    "y":{"field":"p","type":"quantitative","title":null,"scale":{"domain":[138.5,1080.6],"nice":false,"zero":false},"axis":null}}},
  {"data":{"name":"hs"},"mark":{"type":"line","color":"#3a3a3a","strokeWidth":1.3},
   "encoding":{
    "x":{"field":"t","type":"temporal","scale":{"domain":[{"year":2017,"month":"nov","date":2,"hours":21,"minutes":36},{"year":2018,"month":"feb","date":22,"hours":6}]},"axis":null},
    "y":{"field":"n","type":"quantitative","title":null,"scale":{"domain":[138.5,1080.6],"nice":false,"zero":false},"axis":null}}},
  {"data":{"name":"lines"},"transform":[{"filter":"datum.id=='trend'"}],"mark":{"type":"line","color":"#1c1c2e","strokeWidth":1.8},
   "encoding":{
    "x":{"field":"t","type":"temporal","scale":{"domain":[{"year":2017,"month":"nov","date":2,"hours":21,"minutes":36},{"year":2018,"month":"feb","date":22,"hours":6}]},"axis":null},
    "y":{"field":"p","type":"quantitative","title":null,"scale":{"domain":[138.5,1080.6],"nice":false,"zero":false},"axis":null}}},
  {"data":{"name":"lines"},"transform":[{"filter":"datum.id=='fibline'"}],"mark":{"type":"line","color":"#9a9a9a","strokeWidth":0.8,"strokeDash":[2,2]},
   "encoding":{
    "x":{"field":"t","type":"temporal","scale":{"domain":[{"year":2017,"month":"nov","date":2,"hours":21,"minutes":36},{"year":2018,"month":"feb","date":22,"hours":6}]},"axis":null},
    "y":{"field":"p","type":"quantitative","title":null,"scale":{"domain":[138.5,1080.6],"nice":false,"zero":false},"axis":null}}},
  {"data":{"name":"markers"},"mark":{"type":"point","filled":true,"size":6,"color":"#1b1b3a","opacity":1},
   "encoding":{
    "x":{"field":"t","type":"temporal","scale":{"domain":[{"year":2017,"month":"nov","date":2,"hours":21,"minutes":36},{"year":2018,"month":"feb","date":22,"hours":6}]},"axis":null},
    "y":{"field":"p","type":"quantitative","title":null,"scale":{"domain":[138.5,1080.6],"nice":false,"zero":false},"axis":null}}},
  {"data":{"name":"labels"},"mark":{"type":"text","fontSize":4.3,"baseline":"middle","align":"center"},
   "encoding":{
    "x":{"field":"t","type":"temporal","scale":{"domain":[{"year":2017,"month":"nov","date":2,"hours":21,"minutes":36},{"year":2018,"month":"feb","date":22,"hours":6}]},"axis":null},
    "y":{"field":"p","type":"quantitative","title":null,"scale":{"domain":[138.5,1080.6],"nice":false,"zero":false},"axis":null},
    "text":{"field":"s"},
    "color":{"condition":[{"test":"datum.k=='r'","value":"#e53935"},{"test":"datum.k=='g'","value":"#2e9e3e"}],"value":"#2b2b3b"}}},
  {"data":{"name":"pricebox"},"mark":{"type":"rect"},
   "encoding":{
    "x":{"datum":{"year":2018,"month":"feb","date":22,"hours":6},"type":"temporal","scale":{"domain":[{"year":2017,"month":"nov","date":2,"hours":21,"minutes":36},{"year":2018,"month":"feb","date":22,"hours":6}]},"axis":null},
    "x2":{"datum":{"year":2018,"month":"feb","date":25,"hours":18}},
    "y":{"field":"lo","type":"quantitative","title":null,"scale":{"domain":[138.5,1080.6],"nice":false,"zero":false},"axis":null},
    "y2":{"field":"hi"},
    "color":{"condition":{"test":"datum.k=='r'","value":"#f23645"},"value":"#131722"}}},
  {"data":{"name":"pricebox"},"mark":{"type":"text","align":"left","baseline":"middle","dx":2,"fontSize":4.8,"color":"#ffffff"},
   "encoding":{
    "x":{"datum":{"year":2018,"month":"feb","date":22,"hours":6},"type":"temporal","scale":{"domain":[{"year":2017,"month":"nov","date":2,"hours":21,"minutes":36},{"year":2018,"month":"feb","date":22,"hours":6}]},"axis":null},
    "y":{"field":"p","type":"quantitative","title":null,"scale":{"domain":[138.5,1080.6],"nice":false,"zero":false},"axis":null},
    "text":{"field":"s"}}}
]}
]
},
{
"width":902,"height":16,"view":{"stroke":"#c3c3c3","strokeWidth":1.5},
"layer":[
 {"data":{"values":[{}]},"mark":{"type":"rect","color":"#ededed"},
  "encoding":{
   "x":{"datum":{"year":2017,"month":"nov","date":2,"hours":21,"minutes":36},"type":"temporal","scale":{"domain":[{"year":2017,"month":"nov","date":2,"hours":21,"minutes":36},{"year":2018,"month":"feb","date":22,"hours":6}]},"axis":null},
   "x2":{"datum":{"year":2018,"month":"feb","date":22,"hours":6}},
   "y":{"datum":80,"type":"quantitative","title":null,"scale":{"domain":[-12,116],"nice":false,"zero":false},"axis":{"orient":"right","title":null,"values":[0,100],"format":".4f","labelFontSize":4.6}},
   "y2":{"datum":20}}},
 {"data":{"name":"stoch"},"transform":[{"filter":"datum.s=='k'"}],"mark":{"type":"line","color":"#6e6e6e","strokeWidth":0.8},
  "encoding":{
   "x":{"field":"t","type":"temporal","scale":{"domain":[{"year":2017,"month":"nov","date":2,"hours":21,"minutes":36},{"year":2018,"month":"feb","date":22,"hours":6}]},"axis":null},
   "y":{"field":"v","type":"quantitative","title":null,"scale":{"domain":[-12,116],"nice":false,"zero":false}}}},
 {"data":{"name":"stoch"},"transform":[{"filter":"datum.s=='d'"}],"mark":{"type":"line","color":"#f27474","strokeWidth":0.8},
  "encoding":{
   "x":{"field":"t","type":"temporal","scale":{"domain":[{"year":2017,"month":"nov","date":2,"hours":21,"minutes":36},{"year":2018,"month":"feb","date":22,"hours":6}]},"axis":null},
   "y":{"field":"v","type":"quantitative","title":null,"scale":{"domain":[-12,116],"nice":false,"zero":false}}}}
]
},
{
"width":902,"height":7,"view":{"stroke":"#c3c3c3","strokeWidth":1.5},
"data":{"name":"spikes"},
"mark":{"type":"rule","strokeWidth":0.8},
"encoding":{
 "x":{"field":"t","type":"temporal","scale":{"domain":[{"year":2017,"month":"nov","date":2,"hours":21,"minutes":36},{"year":2018,"month":"feb","date":22,"hours":6}]},"axis":null},
 "y":{"datum":0,"type":"quantitative","title":null,"scale":{"domain":[0,1],"nice":false,"zero":false},"axis":{"orient":"right","title":null,"values":[0],"format":".4f","labelFontSize":4.4,"labelBaseline":"bottom"}},
 "y2":{"datum":1},
 "color":{"condition":{"test":"datum.k=='b'","value":"#3d87d6"},"value":"#a0a0a0"}}
},
{
"width":902,"height":18,"view":{"stroke":"#c3c3c3","strokeWidth":1.5},
"layer":[
 {"data":{"name":"osc"},"transform":[{"filter":"datum.s=='r'"}],"mark":{"type":"line","color":"#ef4444","strokeWidth":0.9},
  "encoding":{
   "x":{"field":"t","type":"temporal","scale":{"domain":[{"year":2017,"month":"nov","date":2,"hours":21,"minutes":36},{"year":2018,"month":"feb","date":22,"hours":6}]},"axis":null},
   "y":{"field":"v","type":"quantitative","title":null,"scale":{"domain":[1778,4444],"nice":false,"zero":false},"axis":{"orient":"right","title":null,"values":[2000,4000],"format":".4f","labelFontSize":4.2,"labelBaseline":"middle"}}}},
 {"data":{"name":"osc"},"transform":[{"filter":"datum.s=='g'"}],"mark":{"type":"line","color":"#43a047","strokeWidth":0.9},
  "encoding":{
   "x":{"field":"t","type":"temporal","scale":{"domain":[{"year":2017,"month":"nov","date":2,"hours":21,"minutes":36},{"year":2018,"month":"feb","date":22,"hours":6}]},"axis":null},
   "y":{"field":"v","type":"quantitative","title":null,"scale":{"domain":[1778,4444],"nice":false,"zero":false}}}}
]
},
{
"width":902,"height":13,"view":{"stroke":"#c3c3c3","strokeWidth":1.5},
"data":{"name":"candles"},
"mark":{"type":"bar","size":2.7},
"encoding":{
 "x":{"field":"t","type":"temporal","title":null,"scale":{"domain":[{"year":2017,"month":"nov","date":2,"hours":21,"minutes":36},{"year":2018,"month":"feb","date":22,"hours":6}]},
   "axis":{"title":null,"domain":false,"tickSize":2,"labelPadding":1,"labelFontSize":5,"labelColor":"#555555",
     "values":[{"year":2017,"month":"nov","date":5},{"year":2017,"month":"nov","date":8},{"year":2017,"month":"nov","date":12},{"year":2017,"month":"nov","date":15},{"year":2017,"month":"nov","date":19},{"year":2017,"month":"nov","date":22},{"year":2017,"month":"nov","date":26},{"year":2017,"month":"dec","date":1},{"year":2017,"month":"dec","date":4},{"year":2017,"month":"dec","date":7},{"year":2017,"month":"dec","date":10},{"year":2017,"month":"dec","date":13},{"year":2017,"month":"dec","date":17},{"year":2017,"month":"dec","date":20},{"year":2017,"month":"dec","date":24},{"year":2017,"month":"dec","date":27},{"year":2018,"month":"jan","date":1},{"year":2018,"month":"jan","date":4},{"year":2018,"month":"jan","date":7},{"year":2018,"month":"jan","date":10},{"year":2018,"month":"jan","date":14},{"year":2018,"month":"jan","date":17},{"year":2018,"month":"jan","date":21},{"year":2018,"month":"jan","date":24},{"year":2018,"month":"jan","date":28},{"year":2018,"month":"feb","date":1},{"year":2018,"month":"feb","date":4},{"year":2018,"month":"feb","date":7},{"year":2018,"month":"feb","date":11},{"year":2018,"month":"feb","date":14},{"year":2018,"month":"feb","date":18},{"year":2018,"month":"feb","date":21}],
     "labelExpr":"date(datum.value)==1 ? (month(datum.value)==0 ? timeFormat(datum.value,'%Y') : timeFormat(datum.value,'%b')) : timeFormat(datum.value,'%-d')"}},
 "y":{"field":"v","type":"quantitative","title":null,"scale":{"domain":[0,236],"nice":false,"zero":false},"axis":{"orient":"right","title":null,"values":[0,200],"labelExpr":"format(datum.value*1000000,'.4f')","labelFontSize":3.2,"labelBaseline":"top"}},
 "color":{"condition":{"test":"datum.hl==1","value":"#2e3250"},"value":"#c6c6c6"}}
}
]
}
